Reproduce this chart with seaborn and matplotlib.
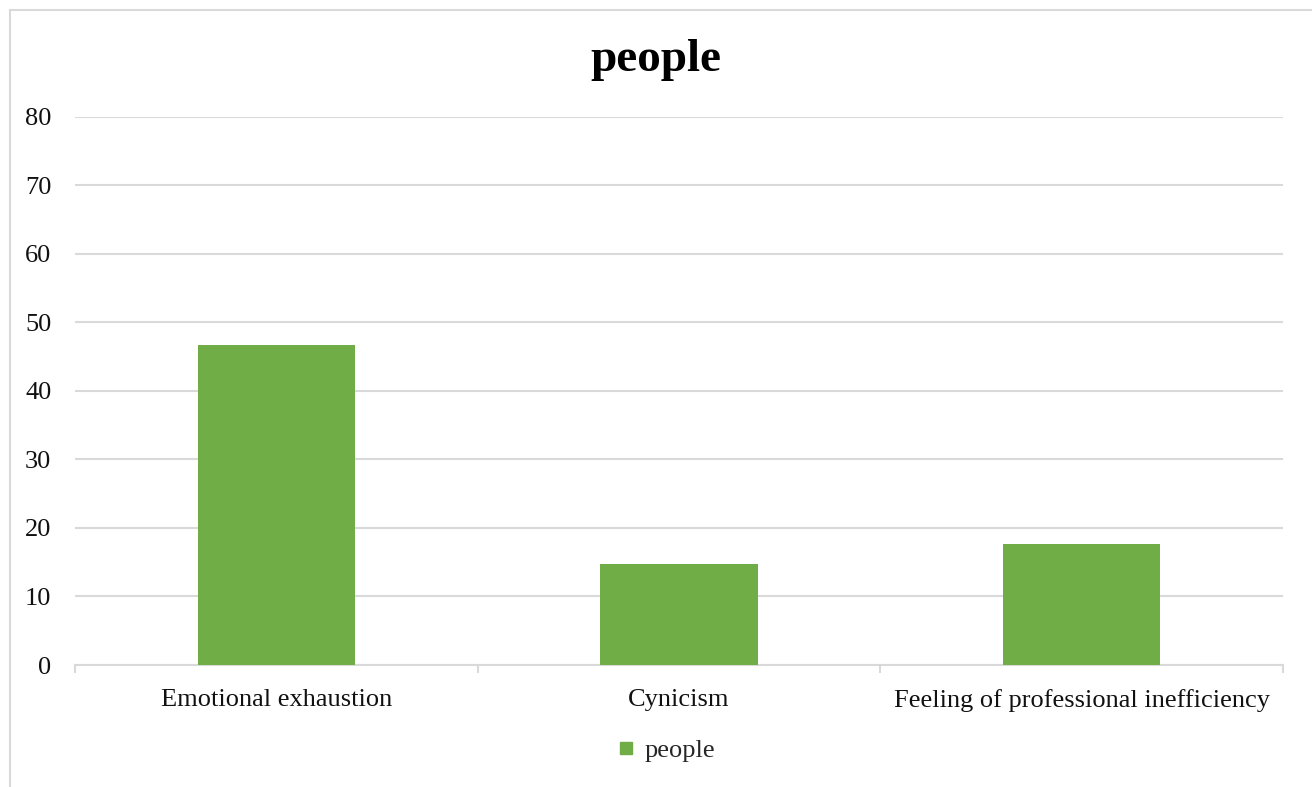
import matplotlib
matplotlib.use("Agg")
import matplotlib.pyplot as plt
import seaborn as sns
from matplotlib.lines import Line2D
from matplotlib.patches import Rectangle

categories = ["Emotional exhaustion", "Cynicism", "Feeling of professional inefficiency"]
values = [46.7, 14.7, 17.6]
series_name = "people"
yticks = [0, 10, 20, 30, 40, 50, 60, 70, 80]

sns.set_theme(style="white")
plt.rcParams['font.family'] = ['Liberation Serif', 'DejaVu Serif']

W, H = 1312, 787
fig = plt.figure(figsize=(W / 100, H / 100), dpi=100)
ax = fig.add_axes([75 / W, 1 - 665 / H, (1283 - 75) / W, (665 - 116.5) / H])

color = "#70AD47"
sns.barplot(x=categories, y=values, color=color, width=0.39, ax=ax,
            saturation=1, edgecolor="none", zorder=3)

ax.set_ylim(0, 80)
ax.set_xlim(-0.5, 2.5)
ax.set_yticks(yticks)
ax.yaxis.grid(True, color="#d9d9d9", linewidth=1.5, zorder=0)
ax.set_axisbelow(True)
for s in ["left", "right", "top"]:
    ax.spines[s].set_visible(False)
ax.spines["bottom"].set_color("#d9d9d9")
ax.spines["bottom"].set_linewidth(1.5)
ax.tick_params(axis="y", length=0, pad=17, labelsize=19, labelcolor="#111111")
ax.tick_params(axis="x", which="major", length=0, pad=17, labelsize=19, labelcolor="#111111")
ax.set_xticks([-0.5, 0.5, 1.5, 2.5], minor=True)
ax.tick_params(axis="x", which="minor", bottom=True, direction="out", length=6,
               width=1.5, color="#d9d9d9")
ax.set_xlabel("")
ax.set_ylabel("")

fig.text(0.5, 1 - 60 / H, series_name, ha="center", va="center",
         fontsize=34, fontweight="bold", color="black")

handle = Line2D([0], [0], marker="s", color="none", markerfacecolor=color,
                markeredgecolor=color, markersize=8)
fig.legend(handles=[handle], labels=[series_name], loc="center",
           bbox_to_anchor=(667 / W, 1 - 750 / H), frameon=False,
           fontsize=19, handlelength=0.6, handletextpad=0.4)

fig.patches.append(Rectangle((9.5 / W, -0.1), 1.2, 1 - 9.5 / H + 0.1,
                             transform=fig.transFigure, fill=False,
                             edgecolor="#d9d9d9", linewidth=1.5))

fig.savefig("out.png", dpi=100, facecolor="white")
